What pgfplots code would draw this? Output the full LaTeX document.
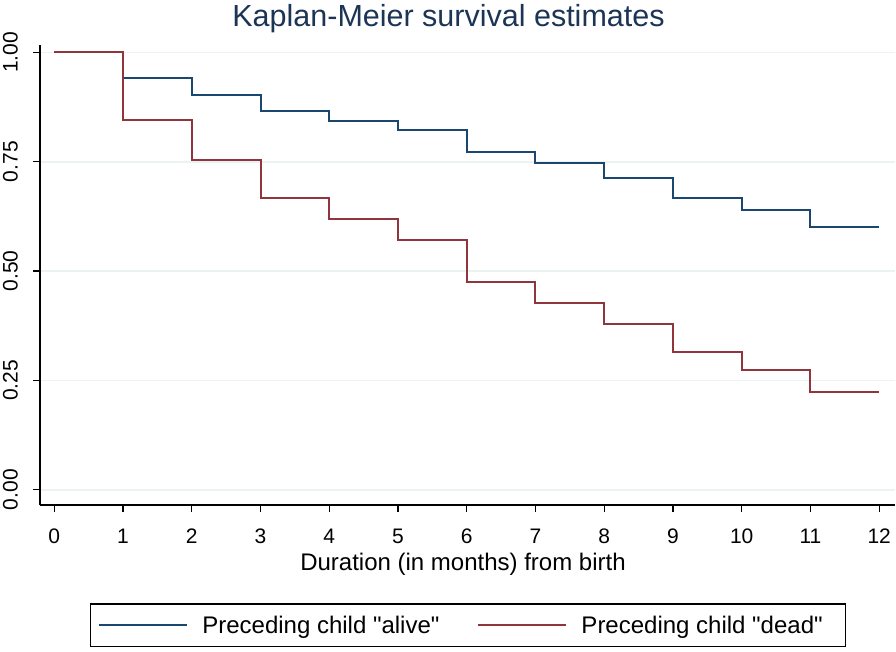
\documentclass[border=0pt]{standalone}
\usepackage{pgfplots}
\pgfplotsset{compat=1.18}
\usepackage{fontspec}
\setmainfont{Liberation Sans}[Ligatures=TeXOff]
\definecolor{stnavy}{HTML}{1A476F}
\definecolor{stmaroon}{HTML}{90353B}
\definecolor{stgrid}{HTML}{EAF2F3}
\definecolor{sttitle}{HTML}{1C3555}
\begin{document}
\begin{tikzpicture}
\path[use as bounding box] (-40pt,-146pt) rectangle (856pt,505pt);
\begin{axis}[
  scale only axis,
  width=855pt, height=460pt,
  xmin=-0.208, xmax=12.23,
  ymin=-0.035, ymax=1.017,
  axis x line*=bottom, axis y line*=left,
  axis line style={line width=1.2pt, black, -},
  xtick={0,1,...,12},
  ytick={0,0.25,0.5,0.75,1},
  yticklabels={0.00,0.25,0.50,0.75,1.00},
  tick align=outside,
  major tick length=7pt,
  tick style={line width=1.2pt, black},
  ymajorgrids,
  grid style={line width=1.6pt, stgrid},
  /pgf/number format/assume math mode=true,
  xticklabel shift=17pt,
  yticklabel shift=15pt,
  xticklabel style={font=\fontsize{21}{24}\selectfont, anchor=north, inner sep=0pt},
  yticklabel style={font=\fontsize{21}{24}\selectfont, rotate=90, anchor=south, inner sep=0pt},
  title={Kaplan-Meier survival estimates},
  title style={font=\fontsize{30.5}{36}\selectfont, color=sttitle, at={(axis description cs:0.4778,1)}, anchor=base, yshift=12pt},
  xlabel={Duration (in months) from birth},
  xlabel style={font=\fontsize{24}{28}\selectfont, at={(axis description cs:0.4947,0)}, anchor=base, yshift=-65pt},
  legend columns=2,
  legend style={at={(axis description cs:0.5006,0)}, anchor=north, yshift=-98.3pt,
    draw=black, line width=1.2pt, font=\fontsize{24}{28}\selectfont,
    inner xsep=8pt, inner ysep=10pt,
    /tikz/every odd column/.append style={column sep=12pt},
    /tikz/every even column/.append style={column sep=36pt}},
  legend image code/.code={\draw[#1, line width=2pt] (0pt,0pt) -- (88pt,0pt);},
]
\addplot[const plot, color=stnavy, line width=2pt] coordinates {
(0,1) (1,0.942) (2,0.903) (3,0.867) (4,0.844) (5,0.823) (6,0.773) (7,0.748) (8,0.713) (9,0.668) (10,0.639) (11,0.601) (12,0.601)};
\addlegendentry{Preceding child "alive"}
\addplot[const plot, color=stmaroon, line width=2pt] coordinates {
(0,1) (1,0.845) (2,0.753) (3,0.666) (4,0.618) (5,0.572) (6,0.476) (7,0.428) (8,0.380) (9,0.316) (10,0.273) (11,0.223) (12,0.223)};
\addlegendentry{Preceding child "dead"\rule{13pt}{0pt}}
\end{axis}
\end{tikzpicture}
\end{document}
